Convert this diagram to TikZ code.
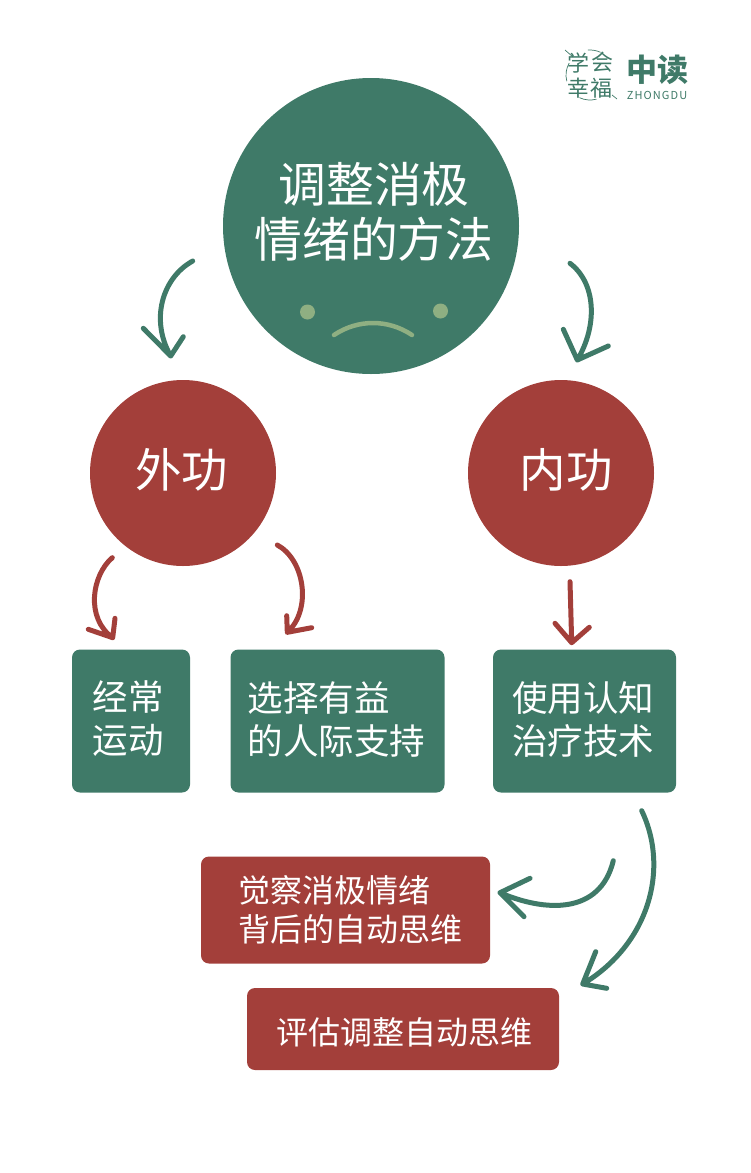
\documentclass[tikz,border=0pt]{standalone}
\usepackage{fontspec}
\setmainfont{Noto Sans CJK SC}
\definecolor{zdgreen}{HTML}{3F7A68}
\definecolor{zdred}{HTML}{A33F3A}
\definecolor{zdface}{HTML}{8FAF82}
\tikzset{
  x=1pt, y=1pt,
  greencirc/.style={circle, fill=zdgreen, inner sep=0pt},
  redcirc/.style={circle, fill=zdred, inner sep=0pt, minimum size=186pt},
  greenbox/.style={rectangle, rounded corners=8pt, fill=zdgreen, inner sep=0pt, minimum height=143pt},
  redbox/.style={rectangle, rounded corners=8pt, fill=zdred, inner sep=0pt},
  eyedot/.style={circle, fill=zdface, minimum size=15pt, inner sep=0pt},
  circtext/.style={text=white, inner sep=0pt, align=center, font=\fontsize{46.5}{55}\selectfont},
  greentext/.style={text=white, inner sep=0pt, align=left, font=\fontsize{35.5}{43}\selectfont},
  redtext/.style={text=white, inner sep=0pt, align=left, font=\fontsize{32}{39}\selectfont},
  curveline/.style={line width=5pt, line cap=round, line join=round},
  logotext/.style={text=zdgreen, inner sep=0pt},
  logoline/.style={zdgreen, line width=0.7pt},
}
\begin{document}
\begin{tikzpicture}
  \useasboundingbox (0,0) rectangle (750,-1173);
  % Big circle
  \node[greencirc, minimum size=296pt] (main) at (371,-226) {};
  \node[circtext, font=\fontsize{47.8}{55}\selectfont] (title) at (374,-212) {调整消极\\情绪的方法};
  \node[eyedot] (eyeL) at (307.5,-312) {};
  \node[eyedot] (eyeR) at (440.5,-311) {};
  \coordinate (mouthL) at (334,-335);
  \coordinate (mouthR) at (412,-335);
  \draw[zdface, line width=4.5pt, line cap=round] (mouthL) .. controls (358,-319) and (388,-319) .. (mouthR);
  % Two circles
  \node[redcirc] (waigong) at (183,-473) {};
  \node[circtext] (waigongtext) at (181.5,-470) {外功};
  \node[redcirc] (neigong) at (561,-473) {};
  \node[circtext] (neigongtext) at (566,-470) {内功};
  % Boxes
  \node[greenbox, minimum width=118pt] (yundong) at (131,-721) {};
  \node[greentext] (yundongtext) at (128,-719) {经常\\运动};
  \node[greenbox, minimum width=214pt] (zhichi) at (337.5,-721) {};
  \node[greentext] (zhichitext) at (336.5,-719) {选择有益\\的人际支持};
  \node[greenbox, minimum width=183pt] (zhiliao) at (584.5,-721) {};
  \node[greentext] (zhiliaotext) at (583,-719) {使用认知\\治疗技术};
  \node[redbox, minimum width=289pt, minimum height=107pt] (juecha) at (345.5,-910) {};
  \node[redtext] (juechatext) at (350,-909.5) {觉察消极情绪\\背后的自动思维};
  \node[redbox, minimum width=312pt, minimum height=82pt] (pinggu) at (403,-1029) {};
  \node[redtext] (pinggutext) at (404,-1032) {评估调整自动思维};
  % Arrows
  \coordinate (a1s) at (192.7,-261);
  \coordinate (a1t) at (170.7,-356);
  \coordinate (a1a) at (143.3,-328.3);
  \coordinate (a1b) at (183.3,-336.7);
  \draw[curveline, zdgreen] (a1s) .. controls (162,-278) and (150,-320) .. (a1t) (a1a) -- (a1t) -- (a1b);
  \coordinate (a2s) at (570,-263.3);
  \coordinate (a2t) at (577.3,-360);
  \coordinate (a2a) at (563.3,-329.3);
  \coordinate (a2b) at (608.3,-346);
  \draw[curveline, zdgreen] (a2s) .. controls (596,-283) and (598,-325) .. (a2t) (a2a) -- (a2t) -- (a2b);
  \coordinate (a3s) at (112.3,-557.7);
  \coordinate (a3t) at (112.7,-637.7);
  \coordinate (a3a) at (115,-618.3);
  \coordinate (a3b) at (88.3,-629.3);
  \draw[curveline, zdred] (a3s) .. controls (92,-575) and (85,-618) .. (a3t) (a3a) -- (a3t) -- (a3b);
  \coordinate (a4s) at (277.3,-545);
  \coordinate (a4t) at (287.3,-632.3);
  \coordinate (a4a) at (286.7,-615.7);
  \coordinate (a4b) at (311.7,-627.7);
  \draw[curveline, zdred] (a4s) .. controls (305,-560) and (312,-610) .. (a4t) (a4a) -- (a4t) -- (a4b);
  \coordinate (a5s) at (570,-581.7);
  \coordinate (a5t) at (571.7,-642.7);
  \coordinate (a5a) at (555,-623.3);
  \coordinate (a5b) at (589.3,-627.3);
  \draw[curveline, zdred] (a5s) -- (a5t) (a5a) -- (a5t) -- (a5b);
  \coordinate (a6s) at (613.3,-860.7);
  \coordinate (a6t) at (500,-892.7);
  \coordinate (a6a) at (530,-878.3);
  \coordinate (a6b) at (524,-916.7);
  \draw[curveline, zdgreen] (a6s) .. controls (600,-915) and (545,-912) .. (a6t) (a6a) -- (a6t) -- (a6b);
  \coordinate (a7s) at (641.7,-810.7);
  \coordinate (a7t) at (582.7,-984);
  \coordinate (a7a) at (595.7,-951.7);
  \coordinate (a7b) at (606.7,-988.3);
  \draw[curveline, zdgreen] (a7s) .. controls (670,-870) and (648,-945) .. (a7t) (a7a) -- (a7t) -- (a7b);
  % Logo
  \node[logotext, font=\fontsize{22}{22}\selectfont] (logoxue) at (578,-63) {学};
  \node[logotext, font=\fontsize{22}{22}\selectfont] (logohui) at (602,-62) {会};
  \node[logotext, font=\fontsize{22}{22}\selectfont] (logoxing) at (578,-88) {幸};
  \node[logotext, font=\fontsize{22}{22}\selectfont] (logofu) at (601,-88) {福};
  \coordinate (logoc) at (590,-75);
  \draw[logoline] (565,-50) -- (573,-57) (612,-95) -- (617,-99);
  \draw[logoline] (logoc) ++(95:25) arc (95:65:25);
  \draw[logoline] (logoc) ++(195:24) arc (195:150:24);
  \draw[logoline] (logoc) ++(285:25) arc (285:245:25);
  \node[logotext, font=\bfseries\fontsize{31}{31}\selectfont] (logoname) at (657,-70) {中读};
  \node[logotext, font=\fontsize{11}{11}\selectfont\addfontfeature{LetterSpace=10}] (logosub) at (657,-95) {ZHONGDU};
\end{tikzpicture}
\end{document}
